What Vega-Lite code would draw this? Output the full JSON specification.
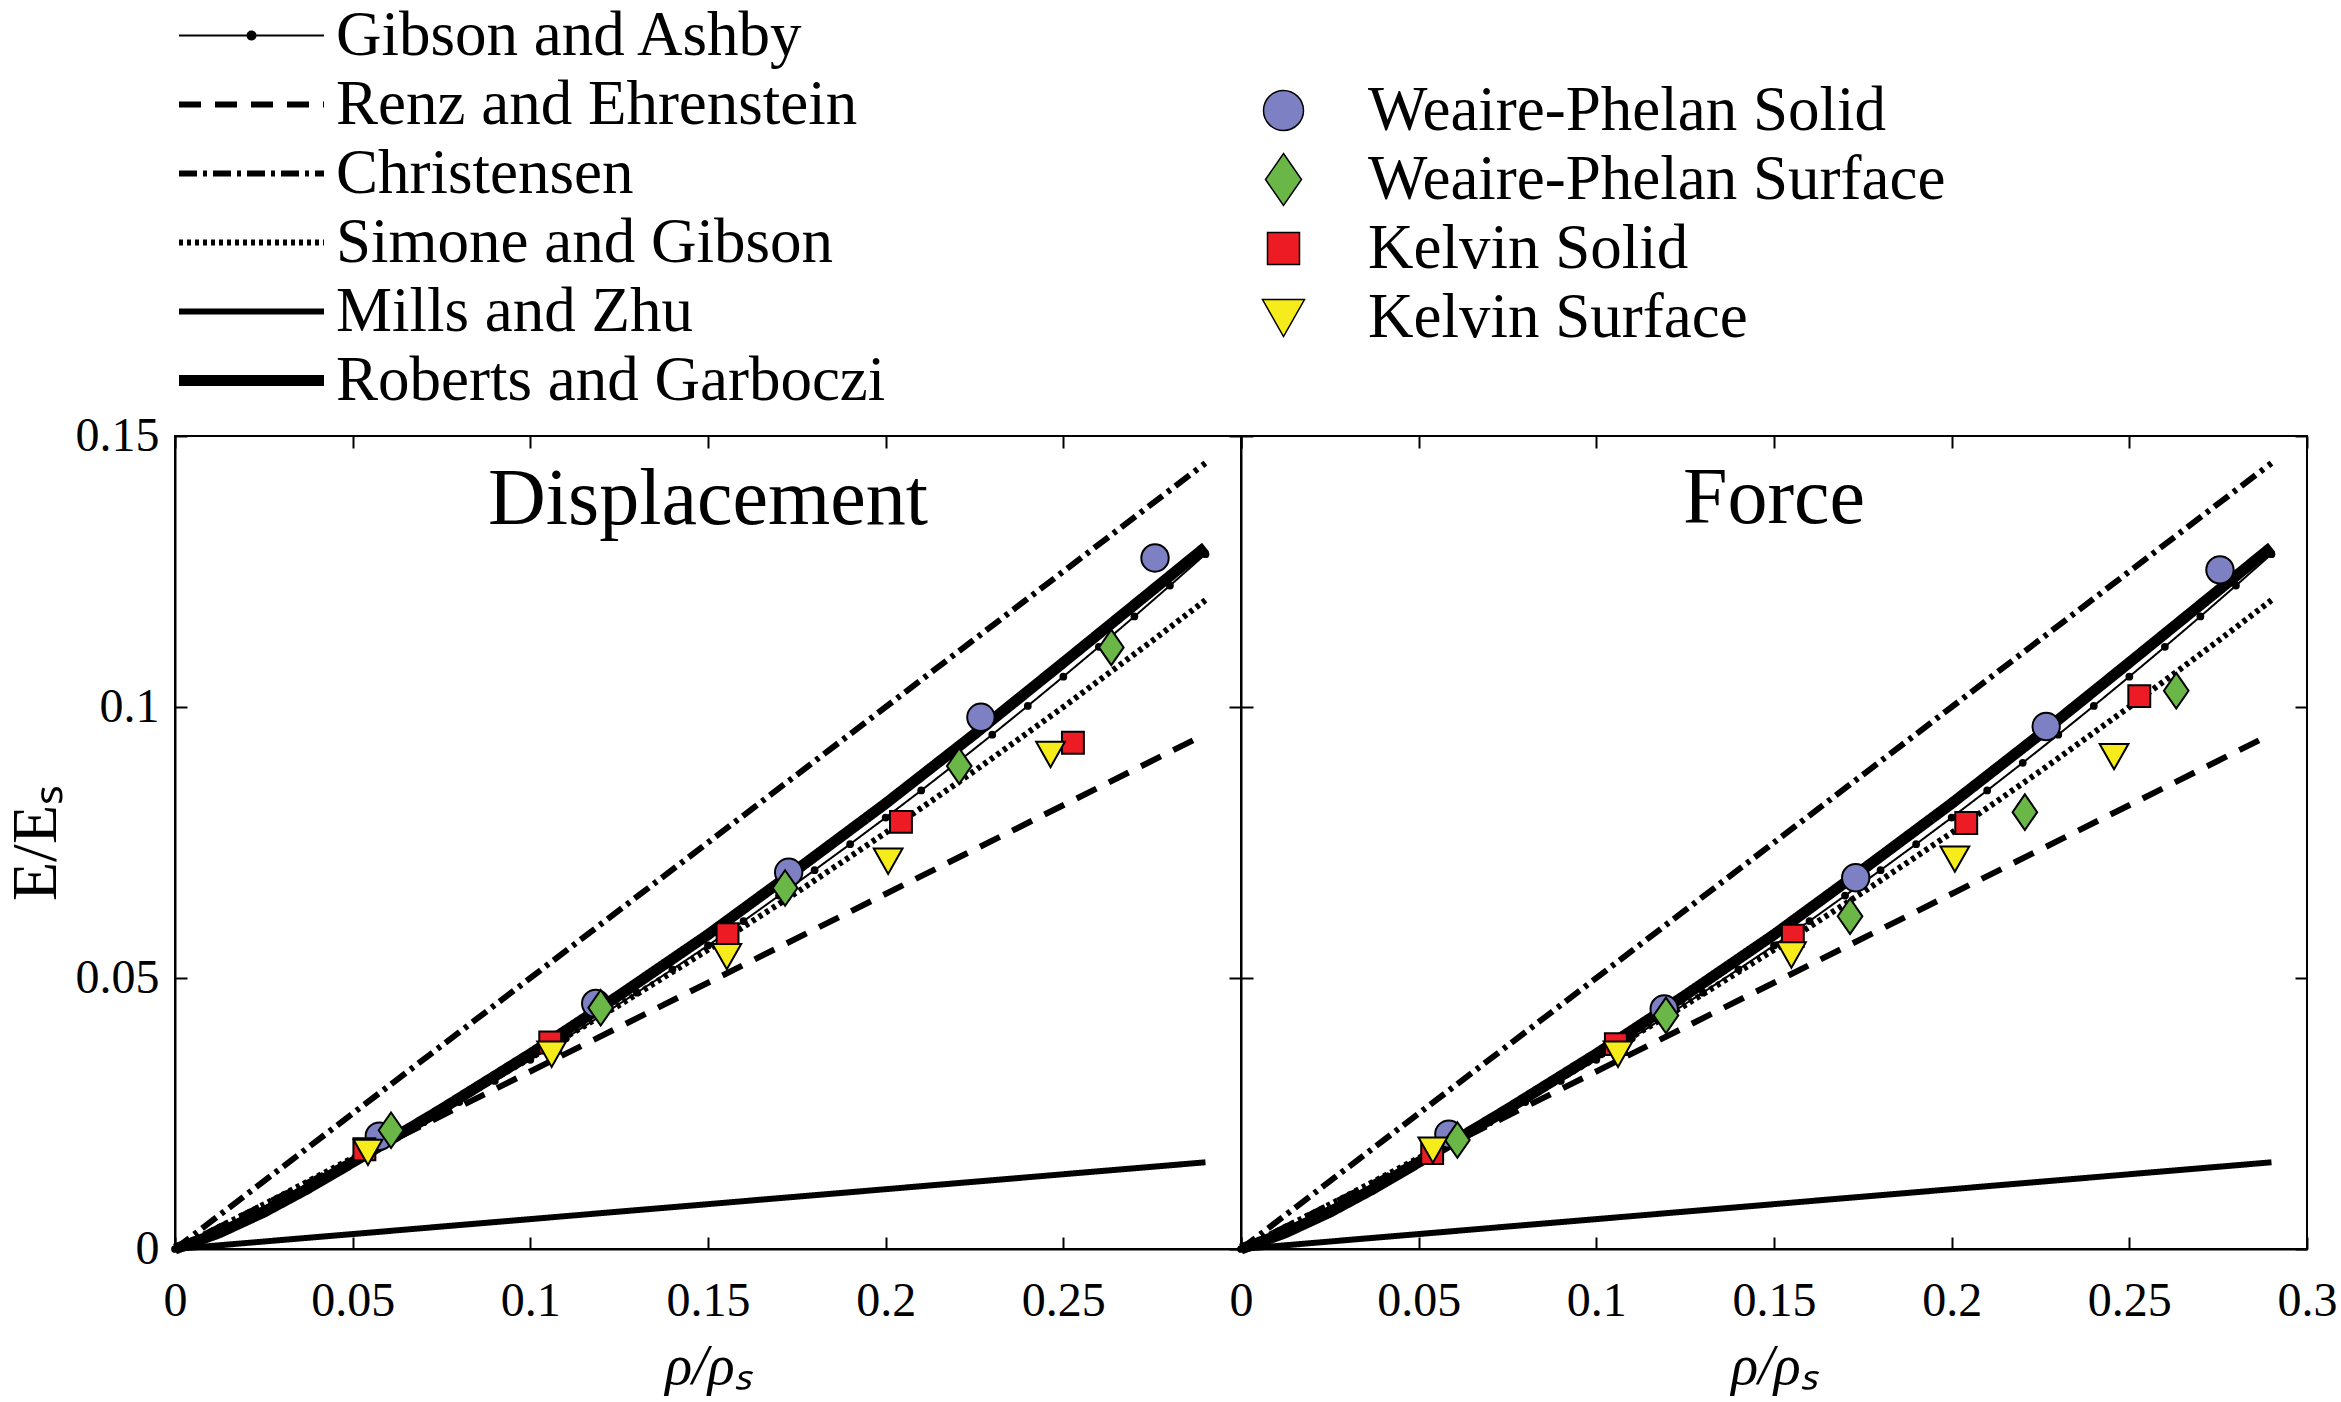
{
  "$schema": "https://vega.github.io/schema/vega-lite/v6.json",
  "background": "white",
  "padding": {"left": 3, "top": 4, "right": 5, "bottom": 2},
  "datasets": {
    "models": [
      {"m": "Gibson and Ashby", "x": 0, "y": 0},
      {"m": "Gibson and Ashby", "x": 0.01, "y": 0.0030},
      {"m": "Gibson and Ashby", "x": 0.02, "y": 0.0062},
      {"m": "Gibson and Ashby", "x": 0.03, "y": 0.0094},
      {"m": "Gibson and Ashby", "x": 0.04, "y": 0.0128},
      {"m": "Gibson and Ashby", "x": 0.05, "y": 0.0162},
      {"m": "Gibson and Ashby", "x": 0.06, "y": 0.0198},
      {"m": "Gibson and Ashby", "x": 0.07, "y": 0.0234},
      {"m": "Gibson and Ashby", "x": 0.08, "y": 0.0271},
      {"m": "Gibson and Ashby", "x": 0.09, "y": 0.0310},
      {"m": "Gibson and Ashby", "x": 0.10, "y": 0.0349},
      {"m": "Gibson and Ashby", "x": 0.11, "y": 0.0389},
      {"m": "Gibson and Ashby", "x": 0.12, "y": 0.0431},
      {"m": "Gibson and Ashby", "x": 0.13, "y": 0.0473},
      {"m": "Gibson and Ashby", "x": 0.14, "y": 0.0516},
      {"m": "Gibson and Ashby", "x": 0.15, "y": 0.0560},
      {"m": "Gibson and Ashby", "x": 0.16, "y": 0.0605},
      {"m": "Gibson and Ashby", "x": 0.17, "y": 0.0652},
      {"m": "Gibson and Ashby", "x": 0.18, "y": 0.0699},
      {"m": "Gibson and Ashby", "x": 0.19, "y": 0.0747},
      {"m": "Gibson and Ashby", "x": 0.20, "y": 0.0796},
      {"m": "Gibson and Ashby", "x": 0.21, "y": 0.0846},
      {"m": "Gibson and Ashby", "x": 0.22, "y": 0.0897},
      {"m": "Gibson and Ashby", "x": 0.23, "y": 0.0949},
      {"m": "Gibson and Ashby", "x": 0.24, "y": 0.1002},
      {"m": "Gibson and Ashby", "x": 0.25, "y": 0.1056},
      {"m": "Gibson and Ashby", "x": 0.26, "y": 0.1111},
      {"m": "Gibson and Ashby", "x": 0.27, "y": 0.1167},
      {"m": "Gibson and Ashby", "x": 0.28, "y": 0.1224},
      {"m": "Gibson and Ashby", "x": 0.29, "y": 0.1282},
      {"m": "Renz and Ehrenstein", "x": 0, "y": 0},
      {"m": "Renz and Ehrenstein", "x": 0.29, "y": 0.095},
      {"m": "Christensen", "x": 0, "y": 0},
      {"m": "Christensen", "x": 0.29, "y": 0.145},
      {"m": "Simone and Gibson", "x": 0, "y": 0},
      {"m": "Simone and Gibson", "x": 0.025, "y": 0.0082},
      {"m": "Simone and Gibson", "x": 0.05, "y": 0.0168},
      {"m": "Simone and Gibson", "x": 0.075, "y": 0.0258},
      {"m": "Simone and Gibson", "x": 0.1, "y": 0.0352},
      {"m": "Simone and Gibson", "x": 0.125, "y": 0.045},
      {"m": "Simone and Gibson", "x": 0.15, "y": 0.0552},
      {"m": "Simone and Gibson", "x": 0.175, "y": 0.0658},
      {"m": "Simone and Gibson", "x": 0.2, "y": 0.0768},
      {"m": "Simone and Gibson", "x": 0.225, "y": 0.0882},
      {"m": "Simone and Gibson", "x": 0.25, "y": 0.1},
      {"m": "Simone and Gibson", "x": 0.275, "y": 0.1122},
      {"m": "Simone and Gibson", "x": 0.29, "y": 0.1197},
      {"m": "Mills and Zhu", "x": 0, "y": 0},
      {"m": "Mills and Zhu", "x": 0.29, "y": 0.016},
      {"m": "Roberts and Garboczi", "x": 0, "y": 0},
      {"m": "Roberts and Garboczi", "x": 0.0125, "y": 0.003},
      {"m": "Roberts and Garboczi", "x": 0.025, "y": 0.0068},
      {"m": "Roberts and Garboczi", "x": 0.0375, "y": 0.0112},
      {"m": "Roberts and Garboczi", "x": 0.05, "y": 0.016},
      {"m": "Roberts and Garboczi", "x": 0.075, "y": 0.0258},
      {"m": "Roberts and Garboczi", "x": 0.1, "y": 0.036},
      {"m": "Roberts and Garboczi", "x": 0.125, "y": 0.0468},
      {"m": "Roberts and Garboczi", "x": 0.15, "y": 0.058},
      {"m": "Roberts and Garboczi", "x": 0.175, "y": 0.07},
      {"m": "Roberts and Garboczi", "x": 0.2, "y": 0.0822},
      {"m": "Roberts and Garboczi", "x": 0.225, "y": 0.095},
      {"m": "Roberts and Garboczi", "x": 0.25, "y": 0.1082},
      {"m": "Roberts and Garboczi", "x": 0.275, "y": 0.1215},
      {"m": "Roberts and Garboczi", "x": 0.29, "y": 0.1295}
    ],
    "sims": [
      {"p": "Displacement", "s": "Weaire-Phelan Solid", "x": 0.0575, "y": 0.0208},
      {"p": "Displacement", "s": "Weaire-Phelan Solid", "x": 0.1184, "y": 0.0453},
      {"p": "Displacement", "s": "Weaire-Phelan Solid", "x": 0.1727, "y": 0.0695},
      {"p": "Displacement", "s": "Weaire-Phelan Solid", "x": 0.2268, "y": 0.0981},
      {"p": "Displacement", "s": "Weaire-Phelan Solid", "x": 0.2758, "y": 0.1275},
      {"p": "Displacement", "s": "Weaire-Phelan Surface", "x": 0.0608, "y": 0.0219},
      {"p": "Displacement", "s": "Weaire-Phelan Surface", "x": 0.1198, "y": 0.0445},
      {"p": "Displacement", "s": "Weaire-Phelan Surface", "x": 0.1717, "y": 0.0666},
      {"p": "Displacement", "s": "Weaire-Phelan Surface", "x": 0.2207, "y": 0.0891},
      {"p": "Displacement", "s": "Weaire-Phelan Surface", "x": 0.2635, "y": 0.111},
      {"p": "Displacement", "s": "Kelvin Solid", "x": 0.0533, "y": 0.0184},
      {"p": "Displacement", "s": "Kelvin Solid", "x": 0.1056, "y": 0.0381},
      {"p": "Displacement", "s": "Kelvin Solid", "x": 0.1555, "y": 0.0581},
      {"p": "Displacement", "s": "Kelvin Solid", "x": 0.2043, "y": 0.0788},
      {"p": "Displacement", "s": "Kelvin Solid", "x": 0.2527, "y": 0.0934},
      {"p": "Displacement", "s": "Kelvin Surface", "x": 0.0543, "y": 0.0179},
      {"p": "Displacement", "s": "Kelvin Surface", "x": 0.106, "y": 0.036},
      {"p": "Displacement", "s": "Kelvin Surface", "x": 0.1553, "y": 0.054},
      {"p": "Displacement", "s": "Kelvin Surface", "x": 0.2007, "y": 0.0716},
      {"p": "Displacement", "s": "Kelvin Surface", "x": 0.2464, "y": 0.0913},
      {"p": "Force", "s": "Weaire-Phelan Solid", "x": 0.0585, "y": 0.0212},
      {"p": "Force", "s": "Weaire-Phelan Solid", "x": 0.1191, "y": 0.0443},
      {"p": "Force", "s": "Weaire-Phelan Solid", "x": 0.173, "y": 0.0685},
      {"p": "Force", "s": "Weaire-Phelan Solid", "x": 0.2266, "y": 0.0964},
      {"p": "Force", "s": "Weaire-Phelan Solid", "x": 0.2755, "y": 0.1253},
      {"p": "Force", "s": "Weaire-Phelan Surface", "x": 0.0609, "y": 0.0201},
      {"p": "Force", "s": "Weaire-Phelan Surface", "x": 0.1196, "y": 0.0431},
      {"p": "Force", "s": "Weaire-Phelan Surface", "x": 0.1714, "y": 0.0614},
      {"p": "Force", "s": "Weaire-Phelan Surface", "x": 0.2206, "y": 0.0806},
      {"p": "Force", "s": "Weaire-Phelan Surface", "x": 0.2632, "y": 0.103},
      {"p": "Force", "s": "Kelvin Solid", "x": 0.0538, "y": 0.0177},
      {"p": "Force", "s": "Kelvin Solid", "x": 0.1055, "y": 0.0378},
      {"p": "Force", "s": "Kelvin Solid", "x": 0.1553, "y": 0.0578},
      {"p": "Force", "s": "Kelvin Solid", "x": 0.2041, "y": 0.0786},
      {"p": "Force", "s": "Kelvin Solid", "x": 0.2528, "y": 0.102},
      {"p": "Force", "s": "Kelvin Surface", "x": 0.054, "y": 0.0183},
      {"p": "Force", "s": "Kelvin Surface", "x": 0.1061, "y": 0.036},
      {"p": "Force", "s": "Kelvin Surface", "x": 0.1549, "y": 0.0543},
      {"p": "Force", "s": "Kelvin Surface", "x": 0.2009, "y": 0.072},
      {"p": "Force", "s": "Kelvin Surface", "x": 0.2457, "y": 0.0909}
    ]
  },
  "spacing": 0,
  "bounds": "flush",
  "hconcat": [
    {
      "width": 1066,
      "height": 813,
      "title": {"text": "Displacement", "offset": -129},
      "layer": [
        {
          "data": {"name": "models"},
          "mark": {"type": "line", "color": "black", "strokeCap": "butt"},
          "encoding": {
            "x": {"field": "x", "type": "quantitative", "scale": {"domain": [0, 0.3], "nice": false},
                  "axis": {"title": "ρ/ρₛ", "values": [0, 0.05, 0.1, 0.15, 0.2, 0.25, 0.3], "format": ".2~f", "labelExpr": "datum.value > 0.29 ? '' : datum.label"}},
            "y": {"field": "y", "type": "quantitative", "scale": {"domain": [0, 0.15], "nice": false},
                  "axis": {"title": "E/Eₛ", "values": [0, 0.05, 0.1, 0.15], "format": ".2~f", "titleX": -139, "titleBaseline": "middle", "titleFontSize": 64, "titleFontStyle": "normal"}},
            "strokeDash": {
              "field": "m", "type": "nominal",
              "scale": {
                "domain": ["Gibson and Ashby", "Renz and Ehrenstein", "Christensen", "Simone and Gibson", "Mills and Zhu", "Roberts and Garboczi"],
                "range": [[1, 0], [22, 14], [18, 6, 4, 6], [4, 4], [1, 0], [1, 0]]
              },
              "legend": {
                "title": null, "orient": "none", "legendX": 45, "legendY": -432,
                "symbolType": {"expr": "datum.value == 'Gibson and Ashby' ? 'M-2.9,0H2.9M0.16,0A0.16,0.16,0,1,1,-0.16,0A0.16,0.16,0,1,1,0.16,0Z' : 'M-2.9,0H2.9'"},
                "symbolFillColor": {"expr": "datum.value == 'Gibson and Ashby' ? 'black' : 'transparent'"},
                "symbolStrokeWidth": {"expr": "datum.value == 'Roberts and Garboczi' ? 11 : datum.value == 'Gibson and Ashby' ? 2 : 6"},
                "symbolSize": 2500, "labelOffset": 53,
                "encode": {"symbols": {"stroke": {"value": "black"}}}
              }
            },
            "strokeWidth": {
              "condition": [
                {"test": "datum.m == 'Roberts and Garboczi'", "value": 11},
                {"test": "datum.m == 'Gibson and Ashby'", "value": 2}
              ],
              "value": 6
            }
          }
        },
        {
          "data": {"name": "models"},
          "transform": [{"filter": "datum.m == 'Gibson and Ashby'"}],
          "mark": {"type": "point", "filled": true, "color": "black", "size": 60, "opacity": 1},
          "encoding": {
            "x": {"field": "x", "type": "quantitative", "axis": null},
            "y": {"field": "y", "type": "quantitative", "axis": null}
          }
        },
        {
          "data": {"name": "sims"},
          "transform": [{"filter": "datum.p == 'Displacement'"}],
          "mark": {"type": "point", "filled": true, "size": 750, "stroke": "black", "strokeWidth": 2, "opacity": 1},
          "encoding": {
            "x": {"field": "x", "type": "quantitative", "axis": null},
            "y": {"field": "y", "type": "quantitative", "axis": null},
            "shape": {
              "field": "s", "type": "nominal",
              "scale": {
                "domain": ["Weaire-Phelan Solid", "Weaire-Phelan Surface", "Kelvin Solid", "Kelvin Surface"],
                "range": ["circle", "M0,-1.3L0.9,0L0,1.3L-0.9,0Z", "M-0.8,-0.8H0.8V0.8H-0.8Z", "M-1.05,-0.9L1.05,-0.9L0,0.95Z"]
              },
              "legend": {"title": null, "orient": "none", "legendX": 1077, "legendY": -357, "symbolSize": 1600, "labelOffset": 53,
                         "encode": {"symbols": {"stroke": {"value": "black"}, "strokeWidth": {"value": 2}}}}
            },
            "fill": {
              "field": "s", "type": "nominal",
              "scale": {
                "domain": ["Weaire-Phelan Solid", "Weaire-Phelan Surface", "Kelvin Solid", "Kelvin Surface"],
                "range": ["#7d80c3", "#6ab748", "#ed1c24", "#f7ec1b"]
              },
              "legend": {"title": null, "orient": "none", "legendX": 1077, "legendY": -357, "symbolSize": 1600, "labelOffset": 53,
                         "encode": {"symbols": {"stroke": {"value": "black"}, "strokeWidth": {"value": 2}}}}
            }
          }
        },
        {
          "data": {"name": "models"},
          "mark": {"type": "point", "opacity": 0},
          "encoding": {
            "x": {"field": "x", "type": "quantitative", "axis": {"orient": "top", "labels": false, "domain": false, "title": null, "values": [0, 0.05, 0.1, 0.15, 0.2, 0.25, 0.3]}},
            "y": {"field": "y", "type": "quantitative", "axis": {"orient": "right", "labels": false, "domain": false, "title": null, "values": [0, 0.05, 0.1, 0.15]}}
          }
        }
      ],
      "resolve": {"axis": {"x": "independent", "y": "independent"}}
    },
    {
      "width": 1066,
      "height": 813,
      "title": {"text": "Force", "offset": -105},
      "layer": [
        {
          "data": {"name": "models"},
          "mark": {"type": "line", "color": "black", "strokeCap": "butt"},
          "encoding": {
            "x": {"field": "x", "type": "quantitative", "scale": {"domain": [0, 0.3], "nice": false},
                  "axis": {"title": "ρ/ρₛ", "values": [0, 0.05, 0.1, 0.15, 0.2, 0.25, 0.3], "format": ".2~f"}},
            "y": {"field": "y", "type": "quantitative", "scale": {"domain": [0, 0.15], "nice": false},
                  "axis": {"title": null, "labels": false, "values": [0, 0.05, 0.1, 0.15]}},
            "strokeDash": {
              "field": "m", "type": "nominal",
              "scale": {
                "domain": ["Gibson and Ashby", "Renz and Ehrenstein", "Christensen", "Simone and Gibson", "Mills and Zhu", "Roberts and Garboczi"],
                "range": [[1, 0], [22, 14], [18, 6, 4, 6], [4, 4], [1, 0], [1, 0]]
              },
              "legend": {
                "title": null, "orient": "none", "legendX": 45, "legendY": -432,
                "symbolType": {"expr": "datum.value == 'Gibson and Ashby' ? 'M-2.9,0H2.9M0.16,0A0.16,0.16,0,1,1,-0.16,0A0.16,0.16,0,1,1,0.16,0Z' : 'M-2.9,0H2.9'"},
                "symbolFillColor": {"expr": "datum.value == 'Gibson and Ashby' ? 'black' : 'transparent'"},
                "symbolStrokeWidth": {"expr": "datum.value == 'Roberts and Garboczi' ? 11 : datum.value == 'Gibson and Ashby' ? 2 : 6"},
                "symbolSize": 2500, "labelOffset": 53,
                "encode": {"symbols": {"stroke": {"value": "black"}}}
              }
            },
            "strokeWidth": {
              "condition": [
                {"test": "datum.m == 'Roberts and Garboczi'", "value": 11},
                {"test": "datum.m == 'Gibson and Ashby'", "value": 2}
              ],
              "value": 6
            }
          }
        },
        {
          "data": {"name": "models"},
          "transform": [{"filter": "datum.m == 'Gibson and Ashby'"}],
          "mark": {"type": "point", "filled": true, "color": "black", "size": 60, "opacity": 1},
          "encoding": {
            "x": {"field": "x", "type": "quantitative", "axis": null},
            "y": {"field": "y", "type": "quantitative", "axis": null}
          }
        },
        {
          "data": {"name": "sims"},
          "transform": [{"filter": "datum.p == 'Force'"}],
          "mark": {"type": "point", "filled": true, "size": 750, "stroke": "black", "strokeWidth": 2, "opacity": 1},
          "encoding": {
            "x": {"field": "x", "type": "quantitative", "axis": null},
            "y": {"field": "y", "type": "quantitative", "axis": null},
            "shape": {
              "field": "s", "type": "nominal",
              "scale": {
                "domain": ["Weaire-Phelan Solid", "Weaire-Phelan Surface", "Kelvin Solid", "Kelvin Surface"],
                "range": ["circle", "M0,-1.3L0.9,0L0,1.3L-0.9,0Z", "M-0.8,-0.8H0.8V0.8H-0.8Z", "M-1.05,-0.9L1.05,-0.9L0,0.95Z"]
              },
              "legend": {"title": null, "orient": "none", "legendX": 1077, "legendY": -357, "symbolSize": 1600, "labelOffset": 53,
                         "encode": {"symbols": {"stroke": {"value": "black"}, "strokeWidth": {"value": 2}}}}
            },
            "fill": {
              "field": "s", "type": "nominal",
              "scale": {
                "domain": ["Weaire-Phelan Solid", "Weaire-Phelan Surface", "Kelvin Solid", "Kelvin Surface"],
                "range": ["#7d80c3", "#6ab748", "#ed1c24", "#f7ec1b"]
              },
              "legend": {"title": null, "orient": "none", "legendX": 1077, "legendY": -357, "symbolSize": 1600, "labelOffset": 53,
                         "encode": {"symbols": {"stroke": {"value": "black"}, "strokeWidth": {"value": 2}}}}
            }
          }
        },
        {
          "data": {"name": "models"},
          "mark": {"type": "point", "opacity": 0},
          "encoding": {
            "x": {"field": "x", "type": "quantitative", "axis": {"orient": "top", "labels": false, "domain": false, "title": null, "values": [0, 0.05, 0.1, 0.15, 0.2, 0.25, 0.3]}},
            "y": {"field": "y", "type": "quantitative", "axis": {"orient": "right", "labels": false, "domain": false, "title": null, "values": [0, 0.05, 0.1, 0.15]}}
          }
        }
      ],
      "resolve": {"axis": {"x": "independent", "y": "independent"}}
    }
  ],
  "config": {
    "font": "Liberation Serif",
    "view": {"stroke": "black", "strokeWidth": 2},
    "axis": {
      "grid": false, "domainColor": "black", "domainWidth": 2, "labelFlush": false,
      "tickColor": "black", "tickWidth": 2, "tickSize": -12,
      "labelFont": "Liberation Serif", "labelFontSize": 48, "labelColor": "black",
      "titleFont": "Liberation Serif", "titleFontWeight": "normal", "titleColor": "black"
    },
    "axisX": {"labelPadding": 40, "titlePadding": 14, "titleFontSize": 56, "titleFontStyle": "italic"},
    "axisY": {"labelPadding": 28},
    "legend": {
      "padding": 0, "labelFont": "Liberation Serif", "labelFontSize": 63, "labelColor": "black",
      "labelLimit": 1000, "rowPadding": 5
    },
    "title": {"font": "Liberation Serif", "fontSize": 80, "fontWeight": "normal", "color": "black", "anchor": "middle", "frame": "group", "baseline": "alphabetic"}
  }
}
